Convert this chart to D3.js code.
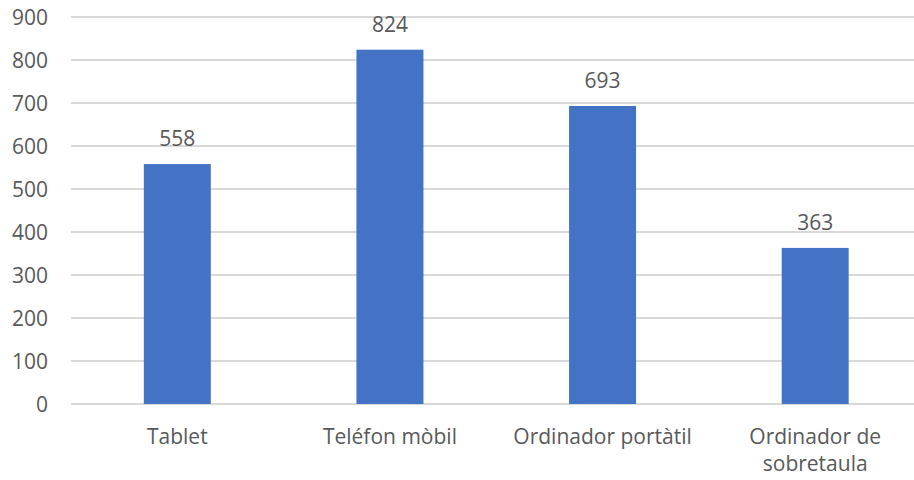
<!DOCTYPE html>
<html><head><meta charset="utf-8">
<script src="https://cdn.jsdelivr.net/npm/d3@7"></script>
<style>body{margin:0;background:#fff}</style>
</head><body>
<svg id="c" width="914" height="480"></svg>
<script>
const categories = [["Tablet"], ["Teléfon mòbil"], ["Ordinador portàtil"], ["Ordinador de", "sobretaula"]];
const values = [558, 824, 693, 363];
const yTicks = [0, 100, 200, 300, 400, 500, 600, 700, 800, 900];

const svg = d3.select("#c");
const font = "'Open Sans', sans-serif";
const fs = 21;
const textColor = "#595959";
const x = d3.scaleBand().domain(d3.range(values.length)).range([71, 921.5]).paddingInner(0.685).paddingOuter(0.3425);
const y = d3.scaleLinear().domain([0, 900]).range([404, 17]);

svg.append("g").selectAll("line").data(yTicks).join("line")
  .attr("x1", 71).attr("x2", 914)
  .attr("y1", d => y(d)).attr("y2", d => y(d))
  .attr("stroke", "#d9d9d9").attr("stroke-width", 1.8);

svg.append("g").selectAll("text").data(yTicks).join("text")
  .attr("x", 48).attr("y", d => y(d)).attr("dy", "0.36em")
  .attr("text-anchor", "end").attr("font-family", font).attr("font-size", fs)
  .attr("fill", textColor).text(d => d);

svg.append("g").selectAll("rect").data(values).join("rect")
  .attr("x", (d, i) => x(i)).attr("width", x.bandwidth())
  .attr("y", d => y(d)).attr("height", d => y(0) - y(d))
  .attr("fill", "#4472c4");

svg.append("g").selectAll("text").data(values).join("text")
  .attr("x", (d, i) => x(i) + x.bandwidth() / 2).attr("y", d => y(d) - 18)
  .attr("text-anchor", "middle").attr("font-family", font).attr("font-size", fs)
  .attr("fill", textColor).text(d => d);

const lab = svg.append("g").selectAll("text").data(categories).join("text")
  .attr("x", (d, i) => x(i) + x.bandwidth() / 2).attr("y", 444)
  .attr("text-anchor", "middle").attr("font-family", font).attr("font-size", fs)
  .attr("fill", textColor);
lab.selectAll("tspan").data(d => d).join("tspan")
  .attr("x", function() { return this.parentNode.getAttribute("x"); })
  .attr("dy", (d, i) => i === 0 ? 0 : 27).text(d => d);
</script>
</body></html>
